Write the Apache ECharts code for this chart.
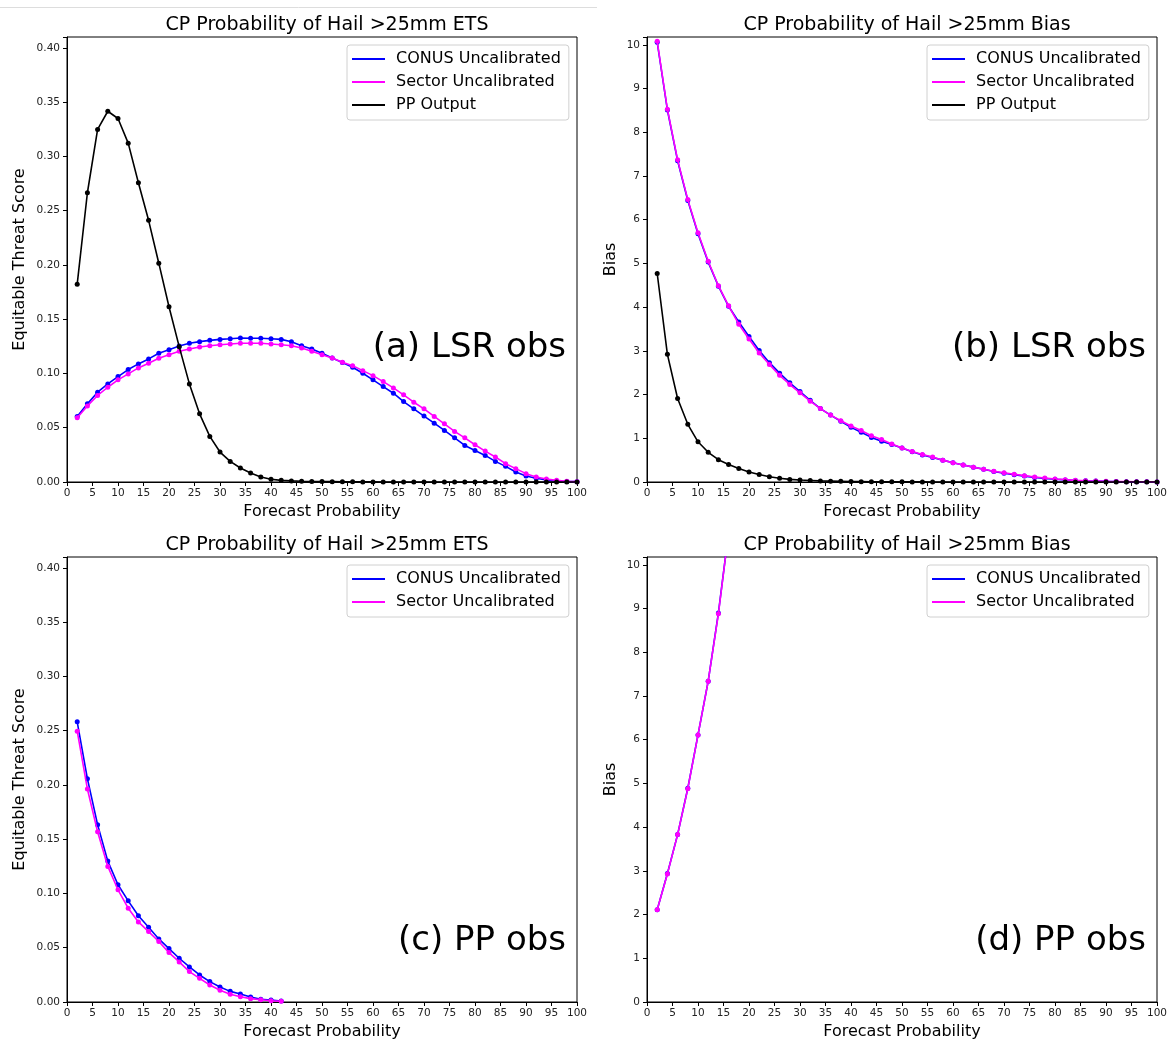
<!DOCTYPE html>
<html>
<head>
<meta charset="utf-8">
<script src="https://cdn.jsdelivr.net/npm/echarts@6/dist/echarts.min.js"></script>
<style>
html,body{margin:0;padding:0;background:#fff;}
#chart{width:1173px;height:1045px;}
</style>
</head>
<body>
<div id="chart"></div>
<script>
// ---------- data ----------
const probs = [2,4,6,8,10,12,14,16,18,20,22,24,26,28,30,32,34,36,38,40,42,44,46,48,50,
               52,54,56,58,60,62,64,66,68,70,72,74,76,78,80,82,84,86,88,90,92,94,96,98,100];

const xTicks = [0,5,10,15,20,25,30,35,40,45,50,55,60,65,70,75,80,85,90,95,100];

// (a) ETS, LSR obs
const etsLsrConus = [0.0604,0.0720,0.0827,0.0904,0.0971,0.1036,0.1088,0.1134,0.1186,0.1219,
  0.1253,0.1278,0.1293,0.1305,0.1314,0.1320,0.1327,0.1324,0.1324,0.1320,
  0.1314,0.1293,0.1256,0.1225,0.1186,0.1143,0.1100,0.1057,0.1002,0.0941,
  0.0879,0.0818,0.0741,0.0674,0.0607,0.0542,0.0475,0.0407,0.0337,0.0291,
  0.0245,0.0190,0.0144,0.0092,0.0055,0.0034,0.0018,0.0009,0.0005,0.0003];
const etsLsrSector = [0.0591,0.0701,0.0797,0.0873,0.0941,0.0996,0.1051,0.1094,0.1140,0.1173,
  0.1204,0.1225,0.1244,0.1256,0.1265,0.1271,0.1278,0.1278,0.1278,0.1271,
  0.1265,0.1256,0.1235,0.1204,0.1173,0.1143,0.1103,0.1072,0.1026,0.0980,
  0.0925,0.0867,0.0803,0.0735,0.0674,0.0604,0.0536,0.0466,0.0407,0.0343,
  0.0285,0.0230,0.0169,0.0123,0.0077,0.0046,0.0028,0.0015,0.0006,0.0003];
const etsLsrPP = [0.1823,0.2665,0.3248,0.3416,0.3349,0.3122,0.2757,0.2411,0.2016,0.1615,
  0.1247,0.0904,0.0628,0.0420,0.0276,0.0190,0.0129,0.0083,0.0046,0.0025,
  0.0015,0.0010,0.0007,0.0005,0.0004,0.0003,0.0002,0.0002,0.0001,0.0001,
  0,0,0,0,0,0,0,0,0,0,
  0,0,0,0,0,0,0,0,0,0];

// (b) Bias, LSR obs
const biasLsrConus = [10.06,8.51,7.35,6.44,5.68,5.03,4.48,4.02,3.66,3.33,
  3.01,2.73,2.49,2.27,2.07,1.87,1.68,1.53,1.39,1.25,
  1.14,1.02,0.93,0.86,0.78,0.69,0.62,0.56,0.50,0.44,
  0.39,0.34,0.29,0.24,0.20,0.165,0.135,0.105,0.08,0.062,
  0.048,0.036,0.028,0.021,0.014,0.010,0.007,0.004,0.003,0.002];
const biasLsrSector = [10.08,8.53,7.37,6.46,5.70,5.05,4.49,4.03,3.61,3.27,
  2.95,2.69,2.44,2.23,2.04,1.85,1.68,1.53,1.40,1.28,
  1.18,1.06,0.97,0.87,0.78,0.70,0.63,0.57,0.50,0.44,
  0.39,0.34,0.29,0.245,0.21,0.176,0.145,0.115,0.09,0.07,
  0.054,0.038,0.030,0.023,0.015,0.010,0.008,0.005,0.003,0.002];
const biasLsrPP = [4.77,2.92,1.91,1.32,0.92,0.68,0.51,0.40,0.31,0.23,
  0.17,0.12,0.085,0.06,0.045,0.035,0.025,0.02,0.015,0.01,
  0.008,0.006,0.005,0.004,0.003,0.002,0.002,0.001,0.001,0.001,
  0.001,0.001,0,0,0,0,0,0,0,0,
  0,0,0,0,0,0,0,0,0,0];

// (c) ETS, PP obs
const etsPpConus = [0.2581,0.2058,0.1634,0.1298,0.1080,0.0932,0.0794,0.0689,0.0581,0.0492,
  0.0403,0.0323,0.0249,0.0188,0.0138,0.0098,0.0074,0.0046,0.0025,0.0018,0.0009];
const etsPpSector = [0.2495,0.1963,0.1569,0.1249,0.1034,0.0864,0.0738,0.0649,0.0557,0.0455,
  0.0369,0.0280,0.0218,0.0157,0.0108,0.0071,0.0049,0.0031,0.0021,0.0012,0.0006];

// (d) Bias, PP obs
const biasPpConus = [2.11,2.94,3.83,4.89,6.11,7.34,8.90,10.75];
const biasPpSector = [2.11,2.93,3.83,4.88,6.11,7.34,8.88,10.75];

const titles = ['CP Probability of Hail >25mm ETS','CP Probability of Hail >25mm Bias',
                'CP Probability of Hail >25mm ETS','CP Probability of Hail >25mm Bias'];
const panelTags = ['(a) LSR obs','(b) LSR obs','(c) PP obs','(d) PP obs'];
const names = {conus:'CONUS Uncalibrated', sector:'Sector Uncalibrated', pp:'PP Output'};
// ---------- end data ----------

const FONT = 'DejaVu Sans';
const BLUE = '#0000ff', MAG = '#ff00ff', BLK = '#000000';

const grids = [
  {left:67, top:37, width:510, height:445},
  {left:647, top:37, width:510, height:445},
  {left:67, top:557, width:510, height:445},
  {left:647, top:557, width:510, height:445}
];

function pairs(vals){ return vals.map((v,i)=>[probs[i], v]); }

function xAxisFor(gi){
  return {
    type:'value', gridIndex:gi, min:0, max:100, interval:5,
    name:'Forecast Probability', nameLocation:'middle', nameGap:22,
    nameTextStyle:{fontFamily:FONT, fontSize:16, color:'#000'},
    axisLine:{show:true, lineStyle:{color:'#000', width:1}},
    axisTick:{show:true, inside:false, length:4, lineStyle:{color:'#000'}},
    axisLabel:{fontFamily:FONT, fontSize:10.5, color:'#222', margin:6},
    splitLine:{show:false}
  };
}
function yAxisFor(gi, isEts){
  return {
    type:'value', gridIndex:gi, min:0, max: isEts ? 0.41 : 10.18, interval: isEts ? 0.05 : 1,
    name: isEts ? 'Equitable Threat Score' : 'Bias',
    nameLocation:'middle', nameGap: isEts ? 39 : 28,
    nameTextStyle:{fontFamily:FONT, fontSize:16, color:'#000'},
    axisLine:{show:true, lineStyle:{color:'#000', width:1}},
    axisTick:{show:true, inside:false, length:4, lineStyle:{color:'#000'}},
    axisLabel:{fontFamily:FONT, fontSize:10.5, color:'#222', margin:7,
      formatter: function(v){
        if (isEts){
          const k = v/0.05;
          return Math.abs(k-Math.round(k))<1e-6 ? v.toFixed(2) : '';
        } else {
          return Math.abs(v-Math.round(v))<1e-6 ? String(Math.round(v)) : '';
        }
      }},
    splitLine:{show:false}
  };
}
function lineSeries(name, color, gi, data, z){
  return {
    type:'line', name:name, xAxisIndex:gi, yAxisIndex:gi, data:data,
    symbol:'circle', symbolSize:5, showSymbol:true,
    lineStyle:{color:color, width:1.6}, itemStyle:{color:color},
    z:z, clip:true, animation:false
  };
}

const series = [
  lineSeries(names.conus, BLUE, 0, pairs(etsLsrConus), 2),
  lineSeries(names.sector, MAG, 0, pairs(etsLsrSector), 3),
  lineSeries(names.pp, BLK, 0, pairs(etsLsrPP), 4),
  lineSeries(names.conus, BLUE, 1, pairs(biasLsrConus), 2),
  lineSeries(names.sector, MAG, 1, pairs(biasLsrSector), 3),
  lineSeries(names.pp, BLK, 1, pairs(biasLsrPP), 4),
  lineSeries(names.conus, BLUE, 2, pairs(etsPpConus), 2),
  lineSeries(names.sector, MAG, 2, pairs(etsPpSector), 3),
  lineSeries(names.conus, BLUE, 3, pairs(biasPpConus), 2),
  lineSeries(names.sector, MAG, 3, pairs(biasPpSector), 3)
];

function legendFor(gi, items){
  const g = grids[gi];
  return {
    orient:'vertical', left:g.left+280, top:g.top+8,
    data: items, icon:'rect', itemWidth:33, itemHeight:2, itemGap:7,
    textStyle:{fontFamily:FONT, fontSize:16, color:'#000', padding:[0,0,0,6]},
    backgroundColor:'#fff', borderColor:'#d0d0d0', borderWidth:1, borderRadius:3,
    padding:[6,8,7,5], selectedMode:false
  };
}

const graphics = [
  {type:'line', shape:{x1:0, y1:7.5, x2:597, y2:7.5}, style:{stroke:'#dddddd', lineWidth:1}, silent:true}
];
grids.forEach((g, i)=>{
  const yOff = (i<2) ? 134 : 61;
  graphics.push({
    type:'text', silent:true, z:10,
    style:{text:panelTags[i], x:g.left+g.width-11, y:g.top+g.height-yOff,
      align:'right', verticalAlign:'middle', textAlign:'right', textVerticalAlign:'middle',
      font:'34px "DejaVu Sans"', fill:'#000'}
  });
});

const option = {
  backgroundColor:'#ffffff',
  animation:false,
  title: grids.map((g,i)=>({
    text:titles[i], left:g.left+g.width/2, top:g.top-26, textAlign:'center',
    textStyle:{fontFamily:FONT, fontSize:19, fontWeight:'normal', color:'#000'}
  })),
  grid: grids.map(g=>Object.assign({show:true, borderColor:'#000', borderWidth:1, backgroundColor:'transparent'}, g)),
  xAxis: [0,1,2,3].map(xAxisFor),
  yAxis: [yAxisFor(0,true), yAxisFor(1,false), yAxisFor(2,true), yAxisFor(3,false)],
  legend: [
    legendFor(0,[names.conus,names.sector,names.pp]),
    legendFor(1,[names.conus,names.sector,names.pp]),
    legendFor(2,[names.conus,names.sector]),
    legendFor(3,[names.conus,names.sector])
  ],
  graphic: graphics,
  series: series
};

const chart = echarts.init(document.getElementById('chart'), null, {renderer:'canvas'});
chart.setOption(option);
</script>
</body>
</html>
